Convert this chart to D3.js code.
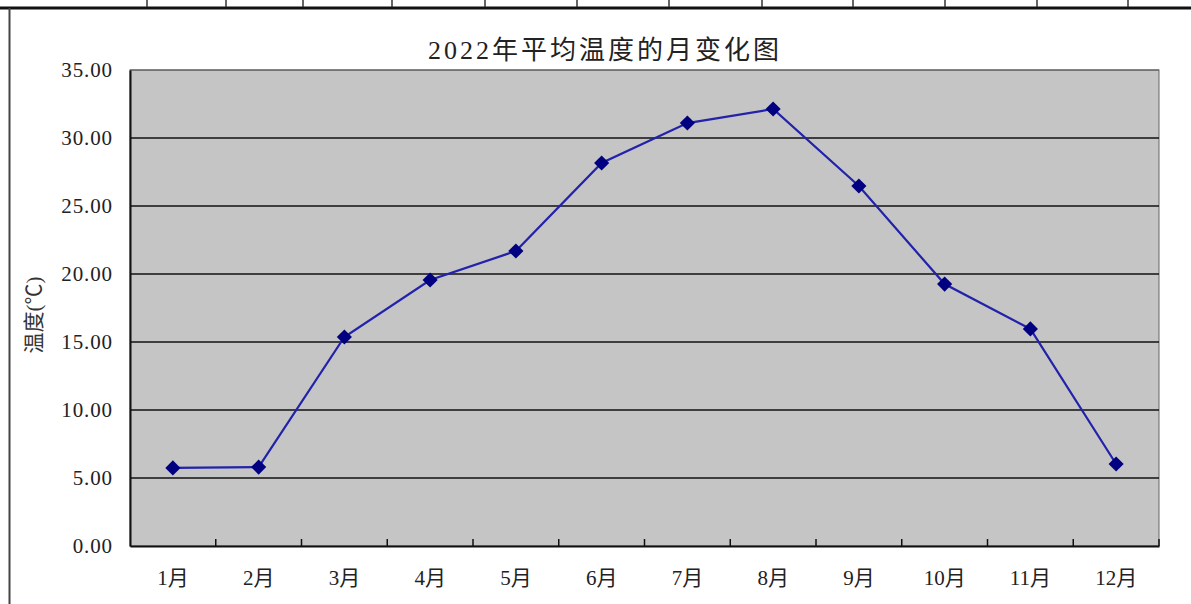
<!DOCTYPE html>
<html><head><meta charset="utf-8">
<script src="https://cdn.jsdelivr.net/npm/d3@7"></script>
<style>body{margin:0;background:#fff}svg{display:block}</style>
</head><body>
<script>
const title = "2022年平均温度的月变化图";
const yLabel = "温度(℃)";
const months = ["1月","2月","3月","4月","5月","6月","7月","8月","9月","10月","11月","12月"];
const temps = [5.74, 5.80, 15.37, 19.56, 21.69, 28.16, 31.10, 32.13, 26.47, 19.26, 15.96, 6.03];
const yTicks = [0, 5, 10, 15, 20, 25, 30, 35];
const tableLines = [147, 226, 303, 392, 485, 577, 669, 762, 853, 945, 1037, 1128];

const W = 1191, H = 604;
const font = "'Liberation Serif','Noto Sans CJK SC',serif";
const svg = d3.select("body").append("svg").attr("width", W).attr("height", H);

svg.append("line").attr("x1",0).attr("x2",W).attr("y1",8).attr("y2",8).attr("stroke","#111").attr("stroke-width",3);
svg.selectAll("line.tl").data(tableLines).enter().append("line").attr("class","tl")
  .attr("x1",d=>d).attr("x2",d=>d).attr("y1",0).attr("y2",7).attr("stroke","#333").attr("stroke-width",1.5);
svg.append("line").attr("x1",9.5).attr("x2",9.5).attr("y1",8).attr("y2",H).attr("stroke","#444").attr("stroke-width",2);

const m = {l:130, r:1159, t:70, b:546};
const x = d3.scaleBand().domain(months).range([m.l, m.r]).padding(0);
const y = d3.scaleLinear().domain([0,35]).range([m.b, m.t]);

svg.append("rect").attr("x",m.l).attr("y",m.t).attr("width",m.r-m.l).attr("height",m.b-m.t)
  .attr("fill","#c5c5c5").attr("stroke","#666").attr("stroke-width",1);

svg.append("g").selectAll("line").data(yTicks.filter(d=>d>0 && d<35)).enter().append("line")
  .attr("x1",m.l).attr("x2",m.r).attr("y1",d=>y(d)).attr("y2",d=>y(d)).attr("stroke","#111").attr("stroke-width",1.5);
svg.append("line").attr("x1",m.l).attr("x2",m.r).attr("y1",m.t).attr("y2",m.t).attr("stroke","#555").attr("stroke-width",1.2);

const yAxis = svg.append("g").attr("transform",`translate(${m.l},0)`)
  .call(d3.axisLeft(y).tickValues(yTicks).tickFormat(d3.format(".2f")).tickSize(0).tickPadding(17));
yAxis.select(".domain").attr("stroke","#111").attr("stroke-width",2);
yAxis.selectAll("text").attr("font-family",font).attr("font-size",21).attr("letter-spacing",0.9).attr("fill","#222");

const xAxis = svg.append("g").attr("transform",`translate(0,${m.b})`)
  .call(d3.axisBottom(x).tickSize(0).tickPadding(24));
xAxis.select(".domain").attr("stroke","#111").attr("stroke-width",2);
xAxis.selectAll("text").attr("font-family",font).attr("font-size",21).attr("fill","#222");
const bounds = months.map(d=>x(d)+x.bandwidth());
svg.append("g").selectAll("line").data(bounds).enter().append("line")
  .attr("x1",d=>d).attr("x2",d=>d).attr("y1",m.b).attr("y2",m.b-7).attr("stroke","#111").attr("stroke-width",1.5);

const cx = d=>x(d)+x.bandwidth()/2;
svg.append("path").datum(months)
  .attr("d", d3.line().x(d=>cx(d)).y((d,i)=>y(temps[i])))
  .attr("fill","none").attr("stroke","#2222aa").attr("stroke-width",2.2);
svg.append("g").selectAll("path").data(months).enter().append("path")
  .attr("transform",(d,i)=>`translate(${cx(d)},${y(temps[i])}) rotate(45)`)
  .attr("d", d3.symbol().type(d3.symbolSquare).size(115))
  .attr("fill","#000080");

svg.append("text").attr("x",605).attr("y",59).attr("text-anchor","middle")
  .attr("font-family",font).attr("font-size",26).attr("letter-spacing",3).attr("fill","#222").text(title);
svg.append("text").attr("transform","translate(41,315) rotate(-90)").attr("text-anchor","middle")
  .attr("font-family",font).attr("font-size",21).attr("fill","#333").text(yLabel);
</script>
</body></html>
